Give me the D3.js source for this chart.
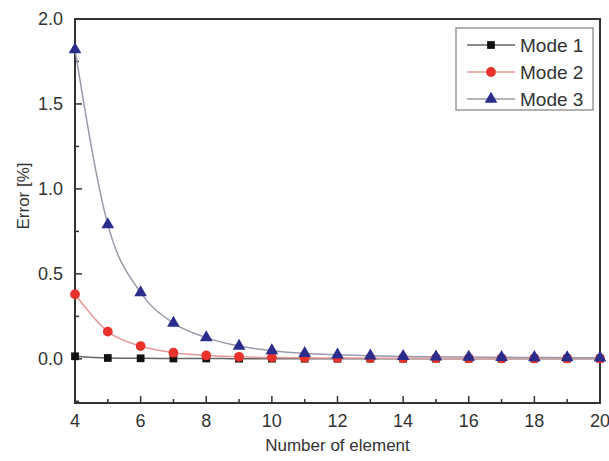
<!DOCTYPE html><html><head><meta charset="utf-8">
<title>Error vs number of element</title>
<script src="https://cdn.jsdelivr.net/npm/d3@7"></script>
<style>
body { margin: 0; background: #fff; }
svg text { font-family: "Liberation Sans", Arial, sans-serif; }
</style>
</head>
<body>
<div id="chart"></div>
<script>
// data
const elements = [4, 5, 6, 7, 8, 9, 10, 11, 12, 13, 14, 15, 16, 17, 18, 19, 20];
const mode1 = [0.015, 0.005, 0.003, 0.002, 0.002, 0.001, 0.001, 0.001, 0.001, 0.001, 0.001, 0.001, 0.001, 0.001, 0.001, 0.001, 0.001];
const mode2 = [0.38, 0.16, 0.075, 0.036, 0.02, 0.012, 0.008, 0.006, 0.005, 0.004, 0.003, 0.003, 0.002, 0.002, 0.002, 0.002, 0.002];
const mode3 = [1.82, 0.79, 0.39, 0.21, 0.125, 0.075, 0.048, 0.032, 0.024, 0.018, 0.014, 0.012, 0.01, 0.009, 0.008, 0.007, 0.006];
const seriesNames = ["Mode 1", "Mode 2", "Mode 3"];
const xTicks = [4, 6, 8, 10, 12, 14, 16, 18, 20];
const yTicks = [0, 0.5, 1.0, 1.5, 2.0];

const W = 609, H = 461;
const margin = { top: 19, right: 9, bottom: 58, left: 75 };
const width = W - margin.left - margin.right;
const height = H - margin.top - margin.bottom;

const svg = d3.select("#chart").append("svg")
	.attr("width", W).attr("height", H);
const g = svg.append("g")
	.attr("transform", `translate(${margin.left}, ${margin.top})`);

const x = d3.scaleLinear().domain([4, 20]).range([0, width]);
const y = d3.scaleLinear().domain([-0.26, 2.0]).range([height, 0]);

const styles = [
	{ line: "#666", fill: "#111", symbol: d3.symbolSquare, size: 60 },
	{ line: "#e69a9a", fill: "#e8322b", symbol: d3.symbolCircle, size: 75 },
	{ line: "#9a9aaa", fill: "#2b2d8c", symbol: d3.symbolTriangle, size: 70 }
];
const series = [mode1, mode2, mode3];

// frame
g.append("rect")
	.attr("width", width).attr("height", height)
	.attr("fill", "none").attr("stroke", "#333").attr("stroke-width", 2);

// x axis ticks (inward)
const xAxis = g.append("g").attr("transform", `translate(0, ${height})`);
xAxis.selectAll("line.major").data(xTicks).join("line")
	.attr("x1", d => x(d)).attr("x2", d => x(d))
	.attr("y1", 0).attr("y2", -7)
	.attr("stroke", "#333").attr("stroke-width", 1.5);
xAxis.selectAll("line.minor").data(d3.range(5, 20, 2)).join("line")
	.attr("class", "minor")
	.attr("x1", d => x(d)).attr("x2", d => x(d))
	.attr("y1", 0).attr("y2", -4)
	.attr("stroke", "#333").attr("stroke-width", 1.5);
xAxis.selectAll("text").data(xTicks).join("text")
	.attr("x", d => x(d)).attr("y", 24)
	.attr("text-anchor", "middle")
	.attr("font-size", 18).attr("fill", "#333")
	.text(d => d);

// y axis ticks (inward)
const yAxis = g.append("g");
yAxis.selectAll("line.major").data(yTicks).join("line")
	.attr("y1", d => y(d)).attr("y2", d => y(d))
	.attr("x1", 0).attr("x2", 7)
	.attr("stroke", "#333").attr("stroke-width", 1.5);
yAxis.selectAll("line.minor").data([-0.25, 0.25, 0.75, 1.25, 1.75]).join("line")
	.attr("class", "minor")
	.attr("y1", d => y(d)).attr("y2", d => y(d))
	.attr("x1", 0).attr("x2", 4)
	.attr("stroke", "#333").attr("stroke-width", 1.5);
yAxis.selectAll("text").data(yTicks).join("text")
	.attr("x", -12).attr("y", d => y(d)).attr("dy", "0.35em")
	.attr("text-anchor", "end")
	.attr("font-size", 18).attr("fill", "#333")
	.text(d => d.toFixed(1));

// axis titles
svg.append("text")
	.attr("x", margin.left + width / 2).attr("y", 451)
	.attr("text-anchor", "middle")
	.attr("font-size", 17).attr("fill", "#333")
	.text("Number of element");
svg.append("text")
	.attr("transform", "translate(29, 196) rotate(-90)")
	.attr("text-anchor", "middle")
	.attr("font-size", 17).attr("fill", "#333")
	.text("Error [%]");

// lines and markers
const line = d3.line()
	.x((d, i) => x(elements[i]))
	.y(d => y(d))
	.curve(d3.curveMonotoneX);

series.forEach((vals, k) => {
	g.append("path")
		.datum(vals)
		.attr("fill", "none")
		.attr("stroke", styles[k].line)
		.attr("stroke-width", 1.5)
		.attr("d", line);
});
series.forEach((vals, k) => {
	g.append("g").selectAll("path").data(vals).join("path")
		.attr("transform", (d, i) => `translate(${x(elements[i])}, ${y(d)})`)
		.attr("d", d3.symbol().type(styles[k].symbol).size(styles[k].size))
		.attr("fill", styles[k].fill);
});

// legend
const leg = svg.append("g").attr("transform", "translate(456, 28)");
leg.append("rect")
	.attr("width", 137).attr("height", 82)
	.attr("fill", "#fff").attr("stroke", "#999").attr("stroke-width", 1.5);
seriesNames.forEach((name, k) => {
	const row = leg.append("g").attr("transform", `translate(0, ${17 + k * 27})`);
	row.append("line")
		.attr("x1", 11).attr("x2", 59)
		.attr("stroke", styles[k].line).attr("stroke-width", 1.5);
	row.append("path")
		.attr("transform", "translate(35, 0)")
		.attr("d", d3.symbol().type(styles[k].symbol).size(styles[k].size))
		.attr("fill", styles[k].fill);
	row.append("text")
		.attr("x", 64).attr("dy", "0.36em")
		.attr("font-size", 19).attr("fill", "#333")
		.text(name);
});
</script>
</body>
</html>
